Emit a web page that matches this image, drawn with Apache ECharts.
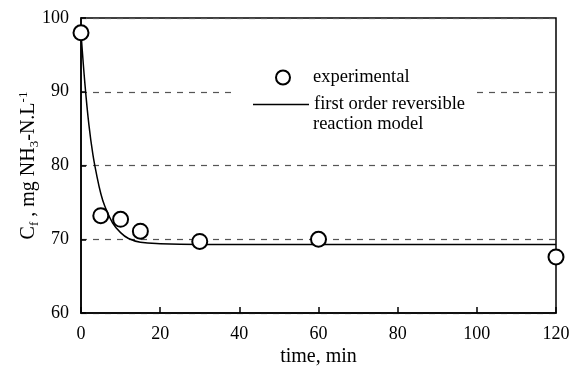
<!DOCTYPE html>
<html>
<head>
<meta charset="utf-8">
<script src="https://cdn.jsdelivr.net/npm/echarts@6/dist/echarts.min.js"></script>
<style>
  html, body { margin: 0; padding: 0; background: #fff; }
  #chart { width: 570px; height: 370px; }
</style>
</head>
<body>
<div id="chart"></div>
<script>
// measured points
const expTime = [0, 5, 10, 15, 30, 60, 120]
const expConc = [98, 73.2, 72.7, 71.1, 69.7, 70, 67.6]
// model curve
const modelTime = [0, 1, 2, 3, 4, 5, 6, 8, 10, 12, 15, 20, 30, 60, 120]
const modelConc = [98, 91, 85.5, 81.5, 78.6, 76.2, 74.5, 72.2, 70.9, 70.1, 69.6, 69.4, 69.3, 69.3, 69.3]
const xTicks = [0, 20, 40, 60, 80, 100, 120]
const yTicks = [60, 70, 80, 90, 100]

const font = 'Liberation Serif'
const chart = echarts.init(document.getElementById('chart'))

const option = {
  animation: false,
  backgroundColor: '#fff',
  textStyle: { fontFamily: font, color: '#000' },
  grid: {
    left: 81, right: 14, top: 18, bottom: 57,
    outerBoundsMode: 'none',
    show: true, borderColor: '#000', borderWidth: 1.5
  },
  graphic: [{
    type: 'rect', z: 1,
    shape: { x: 237, y: 58, width: 240, height: 76 },
    style: { fill: '#fff' }
  }, {
    type: 'text', z: 5, left: 313, top: 115,
    style: { text: 'reaction model', font: '18.5px "Liberation Serif"', fill: '#000' }
  }],
  legend: [{
    left: 270, top: 63,
    itemWidth: 14, itemHeight: 14, itemGap: 0,
    data: ['experimental'],
    textStyle: { fontFamily: font, fontSize: 18.5, color: '#000', padding: [0, 0, 0, 18] }
  }, {
    left: 248, top: 90,
    itemWidth: 56, itemHeight: 1.5, itemGap: 0,
    data: [{ name: 'model', icon: 'rect' }],
    formatter: () => 'first order reversible',
    textStyle: { fontFamily: font, fontSize: 18.5, color: '#000' }
  }],
  xAxis: {
    type: 'value', min: xTicks[0], max: xTicks[xTicks.length - 1], interval: 20,
    name: 'time, min', nameLocation: 'middle', nameGap: 34, nameMoveOverlap: false,
    nameTextStyle: { fontFamily: font, fontSize: 20, color: '#000' },
    axisLine: { lineStyle: { color: '#000', width: 1.5 } },
    axisTick: { inside: true, length: 6, lineStyle: { color: '#000', width: 1.5 } },
    axisLabel: { fontFamily: font, fontSize: 18, color: '#000', margin: 12 },
    splitLine: { show: false }
  },
  yAxis: {
    type: 'value', min: yTicks[0], max: yTicks[yTicks.length - 1], interval: 10,
    name: '{n|C}{s|f}{n| , mg NH}{s|3}{n|-N.L}{p|-1}',
    nameLocation: 'middle', nameGap: 40, nameMoveOverlap: false,
    nameTextStyle: {
      rich: {
        n: { fontFamily: font, fontSize: 20, color: '#000' },
        s: { fontFamily: font, fontSize: 13, color: '#000', verticalAlign: 'bottom', padding: [9, 0, 0, 0] },
        p: { fontFamily: font, fontSize: 13, color: '#000', padding: [0, 0, 11, 0] }
      }
    },
    axisLine: { lineStyle: { color: '#000', width: 1.5 } },
    axisTick: { inside: true, length: 5, lineStyle: { color: '#000', width: 1.5 } },
    axisLabel: { fontFamily: font, fontSize: 18, color: '#000', margin: 12 },
    splitLine: { show: true, lineStyle: { color: '#555', width: 1.2, type: [6, 6] } }
  },
  series: [{
    name: 'model', type: 'line', smooth: 0.4, symbol: 'none', z: 2,
    data: modelTime.map((t, i) => [t, modelConc[i]]),
    lineStyle: { color: '#000', width: 1.5 },
    itemStyle: { color: '#000' }
  }, {
    name: 'experimental', type: 'scatter', symbol: 'circle', symbolSize: 15, z: 3,
    data: expTime.map((t, i) => [t, expConc[i]]),
    itemStyle: { color: '#fff', borderColor: '#000', borderWidth: 2, opacity: 1 }
  }]
}

chart.setOption(option)
</script>
</body>
</html>
